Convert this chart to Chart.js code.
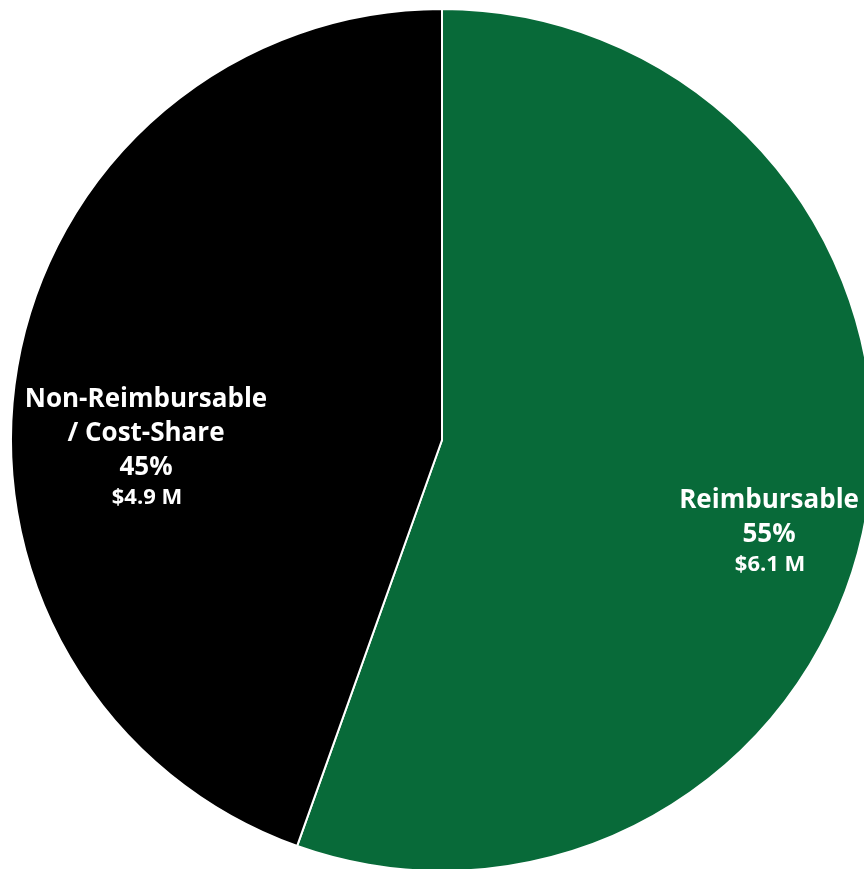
<!DOCTYPE html>
<html>
<head>
<meta charset="utf-8">
<script src="https://cdn.jsdelivr.net/npm/chart.js@4"></script>
<style>
  html, body { margin: 0; padding: 0; background: #fff; overflow: hidden; }
  #wrap { width: 884px; height: 880px; }
</style>
</head>
<body>
<div id="wrap"><canvas id="myChart" width="884" height="880"></canvas></div>
<script>
const categories = ["Reimbursable", "Non-Reimbursable / Cost-Share"];
const labelLines = [["Reimbursable"], ["Non-Reimbursable", "/ Cost-Share"]];
const amounts = [6.1, 4.9]; // $ millions
const percentLabels = ["55%", "45%"];
const amountLabels = ["$6.1 M", "$4.9 M"];
const colors = ["#086a39", "#000000"];

// where each label block sits: angle from 12 o'clock (deg, clockwise) and fraction of radius
const labelSpots = [
  { angle: 105.5, dist: 0.7875 },
  { angle: 268.7, dist: 0.687 },
];

const sliceLabels = {
  id: "sliceLabels",
  afterDatasetsDraw(chart) {
    const ctx = chart.ctx;
    const arcs = chart.getDatasetMeta(0).data;
    ctx.save();
    ctx.fillStyle = "#ffffff";
    ctx.textAlign = "center";
    ctx.textBaseline = "middle";
    arcs.forEach((arc, i) => {
      const spot = labelSpots[i];
      const a = (spot.angle - 90) * Math.PI / 180;
      const cx = arc.x + Math.cos(a) * arc.outerRadius * spot.dist;
      const cy = arc.y + Math.sin(a) * arc.outerRadius * spot.dist;
      const lines = labelLines[i].concat([percentLabels[i]]);
      const span = (lines.length - 1) * 34 + 32;
      let y = cy - span / 2;
      ctx.font = "bold 26px 'Open Sans'";
      lines.forEach((t) => {
        ctx.fillText(t, cx, y + 3);
        y += 34;
      });
      ctx.font = "bold 22px 'Open Sans'";
      ctx.fillText(amountLabels[i], cx + 1, y - 1);
    });
    ctx.restore();
  },
};

const ctx = document.getElementById("myChart");
new Chart(ctx, {
  type: "pie",
  data: {
    labels: categories,
    datasets: [
      {
        data: amounts,
        backgroundColor: colors,
        borderColor: "#ffffff",
        borderWidth: 2,
      },
    ],
  },
  options: {
    responsive: false,
    animation: false,
    layout: { padding: { left: 10, right: 10, top: 8, bottom: 8 } },
    plugins: {
      legend: { display: false },
      tooltip: { enabled: false },
    },
  },
  plugins: [sliceLabels],
});
</script>
</body>
</html>
